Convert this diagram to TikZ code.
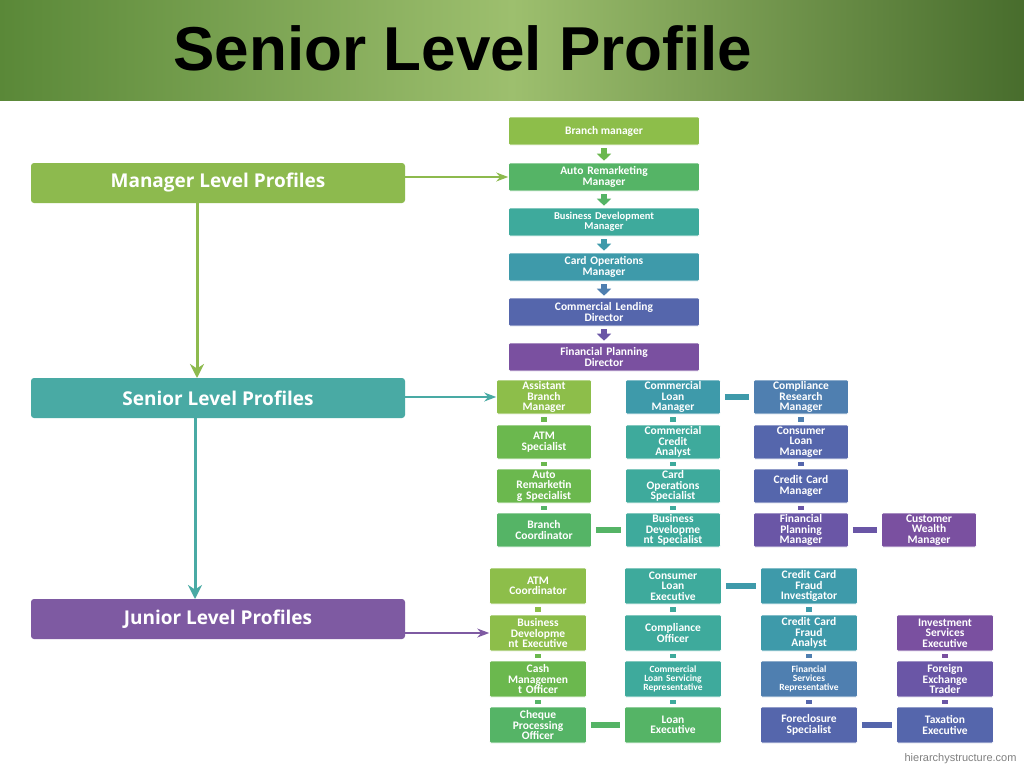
\documentclass[tikz,border=0pt]{standalone}
\usepackage{fontspec}
\setmainfont{Liberation Sans}
\newfontfamily\boxfont{Carlito}
\newfontfamily\lvfont{Open Sans}
\usetikzlibrary{arrows.meta}
\definecolor{g1}{HTML}{8DBE4A}\definecolor{g2}{HTML}{6BB84E}\definecolor{g3}{HTML}{55B466}
\definecolor{t1}{HTML}{3EAA9C}\definecolor{t2}{HTML}{3E9AAA}\definecolor{b1}{HTML}{4F7FB0}
\definecolor{b2}{HTML}{5566AC}\definecolor{p1}{HTML}{6A56A6}\definecolor{p2}{HTML}{7A50A0}
\definecolor{hdA}{HTML}{5A8838}\definecolor{hdB}{HTML}{9DBF6E}
\definecolor{mgr}{HTML}{8DBA4E}\definecolor{sen}{HTML}{49AAA4}\definecolor{jun}{HTML}{7E5AA2}
\tikzset{
 bx/.style={rounded corners=1.5pt, text=white, font=\boxfont\bfseries\fontsize{11.5}{10.5}\selectfont, align=center, inner sep=0.5pt, draw=white, line width=0.6pt},
 lvl/.style={rounded corners=3pt, text=white, font=\lvfont\bfseries\fontsize{19}{20}\selectfont, minimum width=374pt, minimum height=40pt},
 tw/.style={bx, minimum width=191pt, minimum height=28pt},
 sb/.style={bx, minimum width=95pt, minimum height=34pt, text width=94pt},
 jb/.style={bx, minimum width=97pt, minimum height=36pt, text width=96pt},
 lnk/.style={line width=6pt},
}
\begin{document}
\begin{tikzpicture}[x=1pt,y=-1pt]
\useasboundingbox (0,0) rectangle (1024,768);
\fill[white] (0,0) rectangle (1024,768);
\shade[left color=hdA, right color=hdA!80!black, middle color=hdB] (0,0) rectangle (1024,100);
\node[font=\bfseries\fontsize{62}{64}\selectfont] (title) at (463,48) {Senior Level Profile};
% level boxes
\node[lvl, fill=mgr] (mg) at (218,183) {Manager Level Profiles};
\node[lvl, fill=sen] (se) at (218,398) {Senior Level Profiles};
\node[lvl, fill=jun] (ju) at (218,619) {Junior Level Profiles};
\draw[-{Stealth[length=14pt,width=14pt]}, line width=3pt, draw=mgr] (197,203) -- (197,378);
\draw[-{Stealth[length=14pt,width=14pt]}, line width=3pt, draw=sen] (195,418) -- (195,599);
% top column
\node[tw, fill=g1] (a1) at (604,131) {Branch manager};
\node[tw, fill=g3, text width=180pt] (a2) at (604,177) {Auto Remarketing\\Manager};
\node[tw, fill=t1, text width=180pt, font=\boxfont\bfseries\fontsize{10.5}{10}\selectfont] (a3) at (604,222) {Business Development\\Manager};
\node[tw, fill=t2, text width=180pt] (a4) at (604,267) {Card Operations\\Manager};
\node[tw, fill=b2, text width=180pt] (a5) at (604,312) {Commercial Lending\\Director};
\node[tw, fill=p2, text width=180pt] (a6) at (604,357) {Financial Planning\\Director};
\foreach \u/\v/\c in {a1/a2/g2,a2/a3/g3,a3/a4/t2,a4/a5/b1,a5/a6/p1}
  \draw[-{Triangle[length=7pt,width=14pt]}, line width=6pt, draw=\c, shorten <=3pt, shorten >=2pt] (\u.south) -- (\v.north);
\draw[-{Stealth[length=12pt,width=9pt]}, line width=1.2pt, draw=mgr] (a2.west -| mg.east) -- (a2.west);
% senior grid
\node[sb, fill=g1] (s11) at (544,397) {Assistant\\Branch\\Manager};
\node[sb, fill=g2] (s12) at (544,442) {ATM\\Specialist};
\node[sb, fill=g2] (s13) at (544,486) {Auto\\Remarketin\\g Specialist};
\node[sb, fill=g3] (s14) at (544,530) {Branch\\Coordinator};
\node[sb, fill=t2] (s21) at (673,397) {Commercial\\Loan\\Manager};
\node[sb, fill=t1] (s22) at (673,442) {Commercial\\Credit\\Analyst};
\node[sb, fill=t1] (s23) at (673,486) {Card\\Operations\\Specialist};
\node[sb, fill=t1] (s24) at (673,530) {Business\\Developme\\nt Specialist};
\node[sb, fill=b1] (s31) at (801,397) {Compliance\\Research\\Manager};
\node[sb, fill=b2] (s32) at (801,442) {Consumer\\Loan\\Manager};
\node[sb, fill=b2] (s33) at (801,486) {Credit Card\\Manager};
\node[sb, fill=p1] (s34) at (801,530) {Financial\\Planning\\Manager};
\node[sb, fill=p2] (s44) at (929,530) {Customer\\Wealth\\Manager};
\draw[-{Stealth[length=12pt,width=9pt]}, line width=1.2pt, draw=sen] (s11.west -| se.east) -- (s11.west);
\foreach \u/\v/\c in {s11/s12/g2,s12/s13/g2,s13/s14/g3,s21/s22/t1,s22/s23/t1,s23/s24/t1,s31/s32/b1,s32/s33/b2,s33/s34/p1}
  \draw[lnk, draw=\c, shorten <=3pt, shorten >=3pt] (\u.south) -- (\v.north);
\draw[lnk, draw=g3, shorten <=4pt, shorten >=4pt] (s14) -- (s24);
\draw[lnk, draw=t2, shorten <=4pt, shorten >=4pt] (s21) -- (s31);
\draw[lnk, draw=p1, shorten <=4pt, shorten >=4pt] (s34) -- (s44);
% junior grid
\node[jb, fill=g1] (j11) at (538,586) {ATM\\Coordinator};
\node[jb, fill=g1] (j12) at (538,633) {Business\\Developme\\nt Executive};
\node[jb, fill=g2] (j13) at (538,679) {Cash\\Managemen\\t Officer};
\node[jb, fill=g3] (j14) at (538,725) {Cheque\\Processing\\Officer};
\node[jb, fill=t1] (j21) at (673,586) {Consumer\\Loan\\Executive};
\node[jb, fill=t1] (j22) at (673,633) {Compliance\\Officer};
\node[jb, fill=t1, font=\boxfont\bfseries\fontsize{9.5}{9}\selectfont] (j23) at (673,679) {Commercial\\Loan Servicing\\Representative};
\node[jb, fill=g3] (j24) at (673,725) {Loan\\Executive};
\node[jb, fill=t2] (j31) at (809,586) {Credit Card\\Fraud\\Investigator};
\node[jb, fill=t2] (j32) at (809,633) {Credit Card\\Fraud\\Analyst};
\node[jb, fill=b1, font=\boxfont\bfseries\fontsize{9.5}{9}\selectfont] (j33) at (809,679) {Financial\\Services\\Representative};
\node[jb, fill=b2] (j34) at (809,725) {Foreclosure\\Specialist};
\node[jb, fill=p2] (j42) at (945,633) {Investment\\Services\\Executive};
\node[jb, fill=p1] (j43) at (945,679) {Foreign\\Exchange\\Trader};
\node[jb, fill=b2] (j44) at (945,725) {Taxation\\Executive};
\draw[-{Stealth[length=12pt,width=9pt]}, line width=1.2pt, draw=jun] (j12.west -| ju.east) -- (j12.west);
\foreach \u/\v/\c in {j11/j12/g1,j12/j13/g2,j13/j14/g3,j21/j22/t1,j22/j23/t1,j23/j24/t1,j31/j32/t2,j32/j33/b1,j33/j34/b2,j42/j43/p2,j43/j44/p1}
  \draw[lnk, draw=\c, shorten <=3pt, shorten >=3pt] (\u.south) -- (\v.north);
\draw[lnk, draw=g3, shorten <=4pt, shorten >=4pt] (j14) -- (j24);
\draw[lnk, draw=t2, shorten <=4pt, shorten >=4pt] (j21) -- (j31);
\draw[lnk, draw=b2, shorten <=4pt, shorten >=4pt] (j34) -- (j44);
\node[text=gray, font=\fontsize{11}{12}\selectfont, anchor=east] (wm) at (1020,759) {hierarchystructure.com};
\end{tikzpicture}
\end{document}
